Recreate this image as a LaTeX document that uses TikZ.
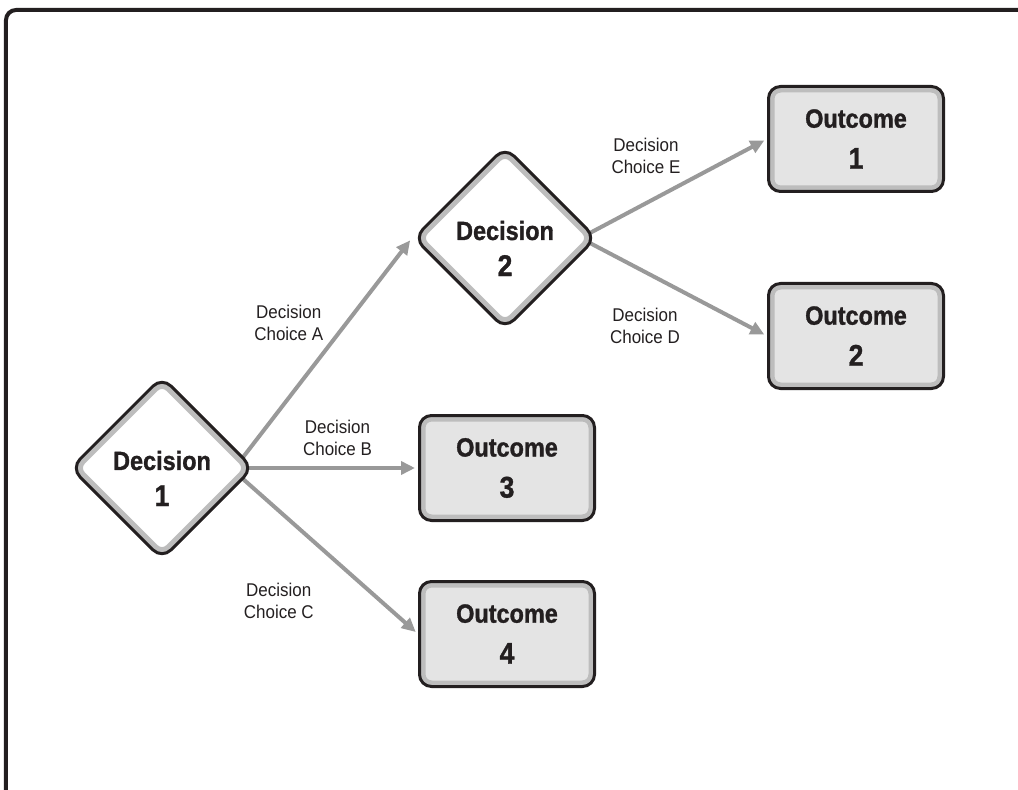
\documentclass[tikz,border=0pt]{standalone}
\usepackage{fontspec}
\setmainfont{Liberation Sans}
\newfontfamily\boxfont[FakeStretch=0.89,BoldFeatures={FakeBold=1.2}]{Liberation Sans}
\newfontfamily\choicefont[FakeStretch=0.92]{Liberation Sans}
\usepackage{xcolor}
\usetikzlibrary{arrows.meta,shapes.geometric,positioning,backgrounds}
\definecolor{inkblack}{HTML}{231F20}
\definecolor{bandgray}{HTML}{BDBDBD}
\definecolor{boxgray}{HTML}{E4E4E4}
\definecolor{arrowgray}{HTML}{999999}
\newcommand{\bignum}[1]{{\fontsize{17}{20.5}\selectfont #1}}
\newcommand{\decstrut}{\rule{0pt}{0.8cm}}

\begin{document}
\begin{tikzpicture}[
    node distance=1.8cm and 3.4cm,
    decision/.style={diamond, draw=inkblack, line width=0.06cm, fill=white,
                 rounded corners=0.25cm, minimum size=3.66cm, inner sep=0pt,
                 align=center, text=inkblack,
                 font=\boxfont\bfseries\fontsize{15}{20.5}\selectfont,
                 path picture={\draw[bandgray, line width=0.26cm, rounded corners=0.25cm,
                   xshift=-0.02cm, yshift=0.02cm]
                   (path picture bounding box.north) -- (path picture bounding box.east)
                   -- (path picture bounding box.south) -- (path picture bounding box.west) -- cycle;}},
    outcome/.style={rectangle, draw=inkblack, line width=0.06cm, fill=boxgray,
                 rounded corners=0.24cm, minimum width=3.5cm, minimum height=2.1cm,
                 inner sep=0pt, align=center, text=inkblack,
                 font=\boxfont\bfseries\fontsize{15}{20.5}\selectfont,
                 path picture={\draw[bandgray, line width=0.24cm, rounded corners=0.24cm,
                   xshift=-0.02cm, yshift=0.02cm]
                   (path picture bounding box.south west) rectangle (path picture bounding box.north east);}},
    choice/.style={align=center, text=inkblack,
                 font=\choicefont\fontsize{10.5}{12.5}\selectfont},
    arr/.style={-{Triangle[length=0.28cm,width=0.26cm]}, line width=0.08cm,
                draw=arrowgray, shorten >=0.06cm, shorten <=-0.15cm},
    frame/.style={draw=inkblack, line width=0.08cm, rounded corners=0.2cm},
  ]
    \useasboundingbox (0,0) rectangle (20.36,-15.8);
    \draw[frame] (0.12,-16) -- (0.12,-0.2) -- (20.6,-0.2);

    \node[decision] (D1) at (3.24,-9.36) {\decstrut Decision\\\bignum{1}};
    \node[outcome, right=3.26cm of D1] (O3) {Outcome\\[0.1cm]\bignum{3}};
    \node[outcome, below=1.16cm of O3] (O4) {Outcome\\[0.1cm]\bignum{4}};
    \node[decision, above=1.66cm of O3, xshift=-0.04cm] (D2) {\decstrut Decision\\\bignum{2}};
    \node[outcome, right=3.38cm of D2, yshift=1.98cm] (O1) {Outcome\\[0.1cm]\bignum{1}};
    \node[outcome, below=1.78cm of O1] (O2) {Outcome\\[0.1cm]\bignum{2}};

    \begin{scope}[on background layer]
    \draw[arr] (D1.8) -- node[choice, xshift=-0.78cm, yshift=0.48cm] {Decision\\Choice A} (D2.west);
    \draw[arr] (D1.east) -- node[choice, xshift=0.02cm, yshift=0.6cm] {Decision\\Choice B} (O3.west);
    \draw[arr] (D1.-8) -- node[choice, xshift=-1.04cm, yshift=-0.88cm] {Decision\\Choice C} (O4.west);
    \draw[arr] (D2.4) -- node[choice, xshift=-0.67cm, yshift=0.59cm] {Decision\\Choice E} (O1.west);
    \draw[arr] (D2.-4) -- node[choice, xshift=-0.69cm, yshift=-0.72cm] {Decision\\Choice D} (O2.west);
    \end{scope}
  \end{tikzpicture}
\end{document}
